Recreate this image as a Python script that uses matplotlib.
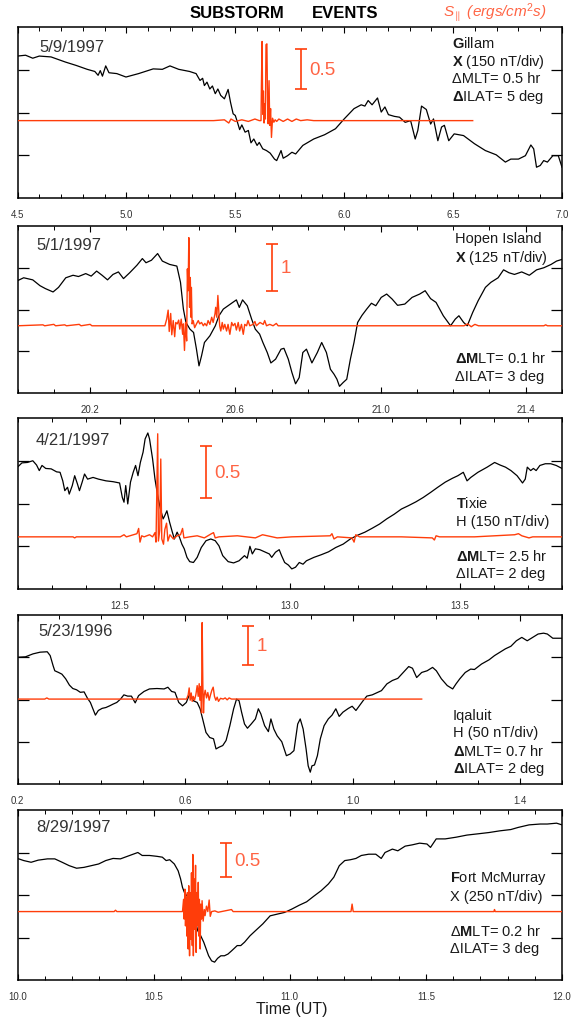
import matplotlib
matplotlib.use("Agg")
import matplotlib.pyplot as plt
from matplotlib.ticker import FixedLocator, MultipleLocator, FormatStrFormatter

plt.rcParams['font.family'] = ['Liberation Sans', 'DejaVu Sans']
plt.rcParams['mathtext.fontset'] = 'custom'
plt.rcParams['mathtext.rm'] = 'Liberation Sans'
plt.rcParams['mathtext.it'] = 'Liberation Sans:italic'
plt.rcParams['mathtext.bf'] = 'Liberation Sans:bold'

# ---- data: black = magnetometer (divisions), orange = S_par (ergs/cm^2 s) ----
# panel 1: Gillam 5/9/1997
p1_black = [(4.5, 3.32), (4.537, 3.34), (4.57, 3.27), (4.60, 3.32), (4.654, 3.30), (4.72, 3.18),
            (4.77, 3.10), (4.82, 3.01), (4.855, 2.96), (4.87, 2.87), (4.88, 2.98), (4.89, 2.85),
            (4.905, 3.09), (4.92, 2.93), (4.956, 2.91), (4.998, 2.83), (5.056, 2.91), (5.123, 3.02),
            (5.165, 3.01), (5.20, 3.09), (5.24, 3.01), (5.29, 2.96), (5.32, 2.91), (5.338, 2.75),
            (5.35, 2.80), (5.358, 2.63), (5.37, 2.71), (5.383, 2.55), (5.395, 2.62), (5.408, 2.44),
            (5.42, 2.55), (5.433, 2.40), (5.45, 2.32), (5.467, 2.54), (5.478, 2.24), (5.49, 1.97),
            (5.50, 1.93), (5.51, 1.77), (5.52, 1.60), (5.53, 1.71), (5.545, 1.54), (5.56, 1.58),
            (5.572, 1.29), (5.585, 1.38), (5.60, 1.23), (5.61, 1.30), (5.626, 1.15), (5.643, 1.11),
            (5.66, 1.05), (5.68, 0.91), (5.69, 0.875), (5.70, 0.99), (5.71, 1.11), (5.72, 0.93),
            (5.74, 0.99), (5.76, 1.07), (5.777, 1.03), (5.81, 1.23), (5.86, 1.38), (5.91, 1.48),
            (5.96, 1.62), (6.00, 1.85), (6.045, 2.09), (6.078, 2.18), (6.095, 2.15), (6.11, 2.28),
            (6.128, 2.18), (6.153, 2.34), (6.17, 2.01), (6.187, 2.13), (6.203, 1.95), (6.23, 1.91),
            (6.254, 1.89), (6.28, 1.77), (6.305, 1.81), (6.326, 1.38), (6.338, 1.58), (6.355, 2.15),
            (6.377, 2.07), (6.397, 1.73), (6.41, 1.85), (6.43, 1.34), (6.447, 1.66), (6.46, 1.70),
            (6.48, 1.34), (6.505, 1.50), (6.548, 1.46), (6.598, 1.27), (6.648, 1.11), (6.698, 1.01),
            (6.74, 0.84), (6.765, 0.91), (6.80, 0.91), (6.832, 0.99), (6.857, 1.24), (6.87, 1.15),
            (6.883, 0.72), (6.90, 0.76), (6.916, 0.875), (6.933, 0.84), (6.958, 0.99), (6.983, 0.99),
            (7.0, 0.72)]
p1_flux = [(4.5, 0), (5.40, 0), (5.45, 0.01), (5.47, -0.03), (5.48, 0.02), (5.50, -0.01), (5.53, 0.01),
           (5.56, -0.01), (5.59, 0.02), (5.61, 0), (5.618, 0), (5.620, 0.45), (5.623, 0.99), (5.626, 0.08),
           (5.629, 0.37), (5.632, -0.03), (5.635, 0.21), (5.638, 0.02), (5.641, 0.95), (5.645, 0.96),
           (5.648, 0.25), (5.651, -0.04), (5.655, 0.50), (5.658, -0.06), (5.662, 0.15), (5.666, -0.21),
           (5.671, 0.03), (5.677, -0.02), (5.683, 0.01), (5.69, -0.01), (5.70, 0.02), (5.72, -0.01),
           (5.74, 0.02), (5.76, -0.01), (5.78, 0.02), (5.80, 0), (5.83, 0.01), (5.86, 0), (6.59, 0)]

# panel 2: Hopen Island 5/1/1997
p2_black = [(20.0, 2.69), (20.017, 2.76), (20.042, 2.71), (20.062, 2.57), (20.077, 2.50), (20.098, 2.42),
            (20.113, 2.53), (20.133, 2.76), (20.153, 2.82), (20.168, 2.79), (20.188, 2.86), (20.203, 2.80),
            (20.218, 2.92), (20.233, 2.82), (20.248, 2.71), (20.263, 2.84), (20.278, 2.90), (20.292, 2.74),
            (20.309, 2.88), (20.329, 3.06), (20.344, 3.22), (20.354, 3.12), (20.369, 3.18), (20.386, 3.34),
            (20.399, 3.16), (20.419, 3.08), (20.439, 3.04), (20.449, 2.65), (20.457, 2.01), (20.464, 1.69),
            (20.475, 1.53), (20.485, 1.45), (20.493, 1.05), (20.50, 0.65), (20.507, 0.89), (20.515, 1.21),
            (20.53, 1.37), (20.545, 1.61), (20.555, 1.85), (20.567, 2.01), (20.58, 2.09), (20.593, 2.17),
            (20.603, 2.23), (20.611, 2.05), (20.62, 2.23), (20.633, 2.09), (20.645, 1.77), (20.655, 1.53),
            (20.667, 1.41), (20.676, 1.21), (20.688, 0.97), (20.698, 0.72), (20.711, 0.81), (20.726, 1.05),
            (20.734, 1.07), (20.746, 0.81), (20.756, 0.49), (20.766, 0.22), (20.776, 0.37), (20.786, 0.97),
            (20.796, 1.05), (20.811, 0.72), (20.826, 0.97), (20.838, 1.21), (20.851, 0.97), (20.862, 0.57),
            (20.872, 0.45), (20.88, 0.33), (20.887, 0.16), (20.897, 0.25), (20.907, 0.33), (20.917, 0.81),
            (20.927, 1.21), (20.937, 1.69), (20.949, 1.86), (20.962, 2.01), (20.975, 2.15), (20.987, 2.09),
            (21.002, 2.29), (21.017, 2.37), (21.032, 2.25), (21.047, 2.10), (21.067, 2.13), (21.087, 2.29),
            (21.108, 2.37), (21.123, 2.45), (21.138, 2.26), (21.153, 2.17), (21.173, 1.85), (21.193, 1.61),
            (21.206, 1.77), (21.216, 1.85), (21.229, 1.69), (21.239, 1.61), (21.254, 1.93), (21.269, 2.21),
            (21.289, 2.53), (21.304, 2.65), (21.324, 2.76), (21.339, 2.95), (21.354, 2.88), (21.369, 2.84),
            (21.389, 2.90), (21.41, 2.82), (21.43, 2.95), (21.45, 3.00), (21.47, 3.08), (21.485, 3.16),
            (21.5, 3.20)]
p2_flux = [(20.0, 0), (20.07, 0.02), (20.075, 0), (20.10, 0.03), (20.105, 0), (20.13, 0.02), (20.135, 0),
           (20.17, 0.03), (20.175, 0), (20.2, 0.03), (20.205, 0), (20.3, 0), (20.406, 0), (20.411, 0.14),
           (20.415, 0.33), (20.418, -0.12), (20.422, 0.26), (20.425, -0.19), (20.429, 0.11), (20.433, -0.23),
           (20.436, 0.07), (20.440, 0.04), (20.444, 0.12), (20.447, -0.07), (20.451, 0.14), (20.455, -0.18),
           (20.457, 0.04), (20.460, -0.52), (20.463, 0.07), (20.466, -0.32), (20.468, 1.20), (20.470, 0.74),
           (20.472, 1.86), (20.474, 0.39), (20.476, 1.02), (20.478, 0.18), (20.479, 0.81), (20.481, 0.04),
           (20.484, 0.11), (20.488, -0.04), (20.493, 0.04), (20.498, 0.11), (20.502, 0.04), (20.507, 0.07),
           (20.512, 0.0), (20.516, 0.05), (20.521, 0.0), (20.525, 0.11), (20.530, 0.03), (20.535, 0.18),
           (20.539, 0.07), (20.544, 0.25), (20.546, 0.39), (20.549, 0.18), (20.552, 0.64), (20.555, 0.25),
           (20.557, 0.0), (20.560, -0.11), (20.564, 0.07), (20.567, -0.07), (20.571, 0.03), (20.576, -0.11),
           (20.580, 0.03), (20.585, -0.18), (20.590, 0.07), (20.594, 0.0), (20.599, 0.05), (20.603, -0.09),
           (20.608, 0.07), (20.612, -0.11), (20.617, 0.03), (20.622, -0.18), (20.626, 0.03), (20.631, 0.0),
           (20.635, 0.11), (20.640, 0.0), (20.649, 0.03), (20.654, 0.09), (20.658, 0.0), (20.668, 0.07),
           (20.677, 0.03), (20.681, 0.11), (20.686, 0.0), (20.695, 0.03), (20.704, 0.0), (20.713, 0.05),
           (20.718, 0.0), (21.23, 0), (21.24, 0.04), (21.25, -0.02), (21.26, 0.03), (21.27, 0),
           (21.45, 0), (21.455, 0.02), (21.46, 0), (21.5, 0)]

# panel 3: Tixie 4/21/1997
p3_black = [(12.2, 2.85), (12.213, 2.95), (12.229, 2.96), (12.245, 3.00), (12.256, 2.90), (12.264, 2.77),
            (12.272, 2.89), (12.283, 2.82), (12.299, 2.81), (12.315, 2.74), (12.325, 2.73), (12.333, 2.53),
            (12.339, 2.30), (12.347, 2.38), (12.352, 2.22), (12.361, 2.42), (12.368, 2.65), (12.376, 2.46),
            (12.382, 2.30), (12.39, 2.50), (12.397, 2.69), (12.406, 2.57), (12.422, 2.61), (12.438, 2.57),
            (12.46, 2.53), (12.481, 2.51), (12.50, 2.48), (12.508, 2.14), (12.513, 2.03), (12.518, 2.42),
            (12.524, 1.99), (12.532, 2.50), (12.54, 2.73), (12.547, 2.89), (12.554, 2.65), (12.561, 2.96),
            (12.569, 3.20), (12.575, 3.51), (12.583, 3.65), (12.588, 3.51), (12.597, 3.04), (12.604, 2.57),
            (12.612, 2.18), (12.62, 1.87), (12.628, 1.64), (12.633, 1.72), (12.639, 1.83), (12.647, 1.56),
            (12.655, 1.33), (12.661, 1.17), (12.669, 1.33), (12.676, 1.21), (12.683, 1.05), (12.69, 0.94),
            (12.698, 0.74), (12.706, 0.64), (12.717, 0.62), (12.728, 0.74), (12.74, 0.97), (12.754, 1.13),
            (12.768, 1.17), (12.781, 1.13), (12.792, 1.01), (12.803, 0.78), (12.819, 0.64), (12.835, 0.61),
            (12.851, 0.66), (12.867, 0.78), (12.875, 0.72), (12.883, 1.00), (12.89, 0.82), (12.899, 0.94),
            (12.912, 0.92), (12.926, 0.87), (12.94, 0.82), (12.947, 0.74), (12.958, 0.86), (12.969, 0.92),
            (12.976, 0.78), (12.985, 0.62), (12.996, 0.56), (13.006, 0.47), (13.017, 0.51), (13.028, 0.62),
            (13.039, 0.58), (13.049, 0.66), (13.071, 0.74), (13.092, 0.80), (13.114, 0.87), (13.135, 0.97),
            (13.157, 1.05), (13.178, 1.17), (13.2, 1.26), (13.221, 1.33), (13.242, 1.42), (13.264, 1.52),
            (13.285, 1.64), (13.307, 1.75), (13.328, 1.87), (13.349, 1.95), (13.371, 2.04), (13.392, 2.14),
            (13.414, 2.26), (13.435, 2.38), (13.457, 2.50), (13.478, 2.59), (13.494, 2.65), (13.51, 2.73),
            (13.521, 2.53), (13.532, 2.61), (13.553, 2.73), (13.58, 2.85), (13.602, 2.96), (13.618, 2.90),
            (13.634, 2.85), (13.65, 2.77), (13.668, 2.65), (13.684, 2.48), (13.692, 2.57), (13.698, 2.85),
            (13.708, 2.77), (13.716, 2.82), (13.724, 2.77), (13.735, 2.89), (13.751, 2.93), (13.767, 2.93),
            (13.783, 2.89), (13.8, 2.82)]
p3_flux = [(12.2, 0), (12.363, 0), (12.368, -0.01), (12.373, 0), (12.502, 0), (12.513, 0.02), (12.52, 0),
           (12.551, 0.03), (12.556, 0.08), (12.56, -0.05), (12.565, 0.01), (12.572, 0), (12.588, 0.02),
           (12.597, 0), (12.604, 0.04), (12.607, -0.05), (12.612, 0.98), (12.614, -0.04), (12.618, 0.06),
           (12.621, 0.74), (12.624, -0.02), (12.629, -0.07), (12.633, 0.07), (12.638, 0.13), (12.642, -0.04),
           (12.648, 0.02), (12.658, -0.02), (12.669, 0.01), (12.679, 0.02), (12.685, 0.08), (12.689, -0.01),
           (12.706, 0), (12.728, 0.01), (12.749, -0.01), (12.77, 0.03), (12.776, 0.04), (12.781, -0.01),
           (12.792, 0), (12.846, 0.01), (12.899, -0.01), (12.92, 0.02), (12.963, -0.01), (13.006, 0),
           (13.119, 0.01), (13.124, 0.03), (13.13, -0.02), (13.14, 0), (13.183, -0.01), (13.189, -0.05),
           (13.194, 0.02), (13.205, 0), (13.328, 0), (13.419, -0.01), (13.425, -0.03), (13.43, 0.01),
           (13.44, 0), (13.543, 0), (13.661, 0.02), (13.672, 0.03), (13.682, 0.01), (13.703, -0.01),
           (13.714, 0), (13.8, 0)]

# panel 4: Iqaluit 5/23/1996
p4_black = [(0.2, 3.00), (0.219, 3.01), (0.237, 3.08), (0.254, 3.12), (0.271, 3.13), (0.278, 3.04),
            (0.285, 2.80), (0.289, 2.68), (0.298, 2.64), (0.306, 2.60), (0.315, 2.49), (0.324, 2.34),
            (0.332, 2.26), (0.341, 2.23), (0.35, 2.17), (0.359, 2.18), (0.367, 2.03), (0.374, 1.93),
            (0.38, 1.78), (0.386, 1.63), (0.393, 1.74), (0.402, 1.79), (0.411, 1.81), (0.42, 1.85),
            (0.428, 1.89), (0.437, 1.93), (0.446, 2.01), (0.454, 2.11), (0.463, 2.08), (0.472, 2.08),
            (0.481, 1.92), (0.489, 2.09), (0.502, 2.19), (0.515, 2.25), (0.533, 2.26), (0.55, 2.25),
            (0.559, 2.29), (0.568, 2.19), (0.576, 2.17), (0.585, 1.93), (0.594, 1.85), (0.603, 1.93),
            (0.611, 2.13), (0.62, 1.97), (0.629, 1.93), (0.636, 1.78), (0.642, 1.54), (0.65, 1.22),
            (0.659, 1.10), (0.668, 1.07), (0.674, 0.83), (0.681, 0.87), (0.69, 0.91), (0.698, 1.03),
            (0.707, 1.38), (0.716, 1.78), (0.723, 2.01), (0.729, 1.97), (0.735, 1.70), (0.742, 1.42),
            (0.749, 1.32), (0.758, 1.42), (0.768, 1.54), (0.775, 1.78), (0.781, 1.66), (0.79, 1.38),
            (0.799, 1.24), (0.805, 1.54), (0.812, 1.30), (0.82, 1.14), (0.831, 1.00), (0.842, 0.67),
            (0.851, 0.71), (0.86, 0.79), (0.869, 1.42), (0.875, 1.54), (0.882, 1.30), (0.889, 0.83),
            (0.894, 0.43), (0.899, 0.28), (0.903, 0.43), (0.909, 0.45), (0.916, 0.67), (0.923, 1.07),
            (0.932, 1.38), (0.942, 1.54), (0.951, 1.63), (0.96, 1.78), (0.968, 1.60), (0.977, 1.70),
            (0.99, 1.79), (0.999, 1.84), (1.008, 1.74), (1.016, 1.85), (1.025, 1.97), (1.034, 2.08),
            (1.047, 2.11), (1.056, 2.15), (1.069, 2.21), (1.082, 2.37), (1.095, 2.45), (1.108, 2.50),
            (1.121, 2.64), (1.134, 2.78), (1.143, 2.74), (1.153, 2.52), (1.165, 2.64), (1.178, 2.68),
            (1.191, 2.76), (1.2, 2.68), (1.212, 2.49), (1.226, 2.33), (1.239, 2.25), (1.247, 2.37),
            (1.256, 2.49), (1.269, 2.64), (1.282, 2.72), (1.291, 2.71), (1.308, 2.84), (1.326, 2.94),
            (1.339, 3.04), (1.352, 3.12), (1.365, 3.20), (1.378, 3.26), (1.391, 3.39), (1.404, 3.47),
            (1.417, 3.39), (1.43, 3.47), (1.443, 3.55), (1.456, 3.57), (1.465, 3.55), (1.478, 3.45),
            (1.5, 3.45)]
p4_flux = [(0.2, 0), (0.265, 0), (0.27, 0.03), (0.275, 0), (0.6036, 0), (0.6075, 0.11), (0.6099, 0.29),
           (0.6123, -0.03), (0.6147, 0.16), (0.6171, -0.06), (0.6195, 0.07), (0.6226, -0.03), (0.6258, 0.11),
           (0.6290, 0.35), (0.6314, 0.07), (0.6338, 0.40), (0.6354, -0.03), (0.6378, 0.33), (0.6393, -0.36),
           (0.6409, 1.99), (0.6425, 0.37), (0.6441, -0.36), (0.6457, 0.09), (0.6481, 0.23), (0.6513, 0.03),
           (0.6544, 0.17), (0.6576, -0.03), (0.6608, 0.11), (0.6640, 0.23), (0.6672, 0.31), (0.6703, 0.07),
           (0.6735, -0.03), (0.6767, 0.05), (0.6799, -0.06), (0.6847, 0.02), (0.6910, 0.0), (0.6958, 0.03),
           (0.7006, -0.02), (0.7053, 0.03), (0.7109, 0.0), (1.165, 0)]

# panel 5: Fort McMurray 8/29/1997
p5_black = [(10.0, 2.86), (10.023, 2.81), (10.05, 2.77), (10.076, 2.82), (10.11, 2.85), (10.137, 2.85),
            (10.164, 2.77), (10.19, 2.69), (10.217, 2.63), (10.244, 2.65), (10.271, 2.69), (10.298, 2.73),
            (10.324, 2.81), (10.351, 2.86), (10.378, 2.85), (10.412, 2.93), (10.442, 3.00), (10.458, 2.93),
            (10.485, 2.93), (10.512, 2.91), (10.532, 2.89), (10.546, 2.81), (10.559, 2.83), (10.576, 2.73),
            (10.59, 2.57), (10.599, 2.38), (10.606, 2.18), (10.613, 2.06), (10.622, 1.98), (10.633, 1.91),
            (10.643, 1.67), (10.653, 1.40), (10.662, 1.16), (10.673, 1.04), (10.684, 0.89), (10.693, 0.73),
            (10.702, 0.57), (10.713, 0.45), (10.724, 0.42), (10.735, 0.51), (10.747, 0.57), (10.76, 0.57),
            (10.773, 0.61), (10.787, 0.69), (10.807, 0.81), (10.82, 0.81), (10.834, 0.89), (10.854, 1.04),
            (10.874, 1.16), (10.901, 1.32), (10.928, 1.51), (10.954, 1.55), (10.981, 1.59), (11.008, 1.67),
            (11.035, 1.76), (11.062, 1.84), (11.088, 1.97), (11.115, 2.10), (11.142, 2.26), (11.162, 2.42),
            (11.182, 2.69), (11.202, 2.81), (11.223, 2.83), (11.243, 2.86), (11.263, 2.93), (11.29, 2.96),
            (11.316, 2.96), (11.336, 2.86), (11.35, 3.00), (11.377, 3.08), (11.397, 3.04), (11.424, 3.15),
            (11.45, 3.18), (11.477, 3.22), (11.504, 3.20), (11.517, 3.12), (11.538, 3.32), (11.571, 3.32),
            (11.611, 3.36), (11.651, 3.41), (11.692, 3.44), (11.732, 3.47), (11.772, 3.51), (11.812, 3.54),
            (11.839, 3.59), (11.879, 3.65), (11.92, 3.67), (11.946, 3.67), (11.98, 3.69), (12.0, 3.65)]
p5_flux = [(10.0, 0), (10.355, 0), (10.36, 0.02), (10.365, 0), (10.606, 0), (10.610, 0.18), (10.612, -0.11),
           (10.615, 0.33), (10.617, -0.21), (10.620, 0.21), (10.622, -0.36), (10.624, 0.28), (10.627, -0.55),
           (10.629, 0.38), (10.632, -0.65), (10.634, 0.28), (10.637, -0.41), (10.639, 0.57), (10.642, -0.50),
           (10.644, 0.84), (10.646, -0.65), (10.649, 0.48), (10.651, -0.26), (10.654, 0.68), (10.656, -0.60),
           (10.659, 0.28), (10.661, -0.21), (10.664, 0.43), (10.666, -0.36), (10.668, 0.18), (10.671, -0.55),
           (10.673, 0.11), (10.676, -0.11), (10.678, 0.16), (10.682, -0.14), (10.686, 0.03), (10.689, -0.06),
           (10.694, 0.08), (10.699, 0.0), (10.704, 0.17), (10.708, -0.07), (10.713, 0.0), (10.725, 0.01),
           (10.737, -0.01), (10.786, 0.03), (10.792, 0.0), (11.225, 0), (11.229, 0.11), (11.233, 0),
           (11.75, 0), (11.752, 0.03), (11.755, 0), (12.0, 0)]

# x-axis ranges and labelled ticks
p1_xlim, p1_xticks = (4.5, 7.0), [4.5, 5.0, 5.5, 6.0, 6.5, 7.0]
p2_xlim, p2_xticks = (20.0, 21.5), [20.2, 20.6, 21.0, 21.4]
p3_xlim, p3_xticks = (12.2, 13.8), [12.5, 13.0, 13.5]
p4_xlim, p4_xticks = (0.2, 1.5), [0.2, 0.6, 1.0, 1.4]
p5_xlim, p5_xticks = (10.0, 12.0), [10.0, 10.5, 11.0, 11.5, 12.0]

dates = ['5/9/1997', '5/1/1997', '4/21/1997', '5/23/1996', '8/29/1997']
bar_values = [0.5, 1, 0.5, 1, 0.5]
bar_labels = ['0.5', '1', '0.5', '1', '0.5']

ORANGE = '#ff3d0a'
ORANGE_TXT = '#ff6444'

# layout per panel (figure pixels top/bottom, baseline & gain of the S trace, scale-bar spot, text spots)
panels = [
    dict(black=p1_black, flux=p1_flux, xlim=p1_xlim, xt=p1_xticks, top=28, bot=199,
         base=1.81, gain=1.87, bar_t=5.80, bar_top=3.485, date_xy=(0.040, 0.887), tx=0.798,
         lines=[(r'$\mathbf{G}$illam', 0.911), (r'$\mathbf{X}$ (150 nT/div)', 0.803),
                ('\u0394MLT= 0.5 hr', 0.700), (r'$\mathbf{\Delta}$ILAT= 5 deg', 0.595)]),
    dict(black=p2_black, flux=p2_flux, xlim=p2_xlim, xt=p2_xticks, top=227, bot=394,
         base=1.61, gain=1.135, bar_t=20.702, bar_top=3.58, date_xy=(0.035, 0.892), tx=0.803,
         lines=[('Hopen Island', 0.926), (r'$\mathbf{X}$ (125 nT/div)', 0.813),
                (r'$\mathbf{\Delta M}$LT= 0.1 hr', 0.214), ('\u0394ILAT= 3 deg', 0.104)]),
    dict(black=p3_black, flux=p3_flux, xlim=p3_xlim, xt=p3_xticks, top=419, bot=590,
         base=1.22, gain=2.46, bar_t=12.753, bar_top=3.35, date_xy=(0.033, 0.873), tx=0.805,
         lines=[(r'$\mathbf{T}$ixie', 0.507), ('H (150 nT/div)', 0.399),
                (r'$\mathbf{\Delta M}$LT= 2.5 hr', 0.195), ('\u0394ILAT= 2 deg', 0.094)]),
    dict(black=p4_black, flux=p4_flux, xlim=p4_xlim, xt=p4_xticks, top=616, bot=785,
         base=2.01, gain=0.91, bar_t=0.751, bar_top=3.73, date_xy=(0.038, 0.911), tx=0.800,
         lines=[('Iqaluit', 0.408), ('H (50 nT/div)', 0.306),
                (r'$\mathbf{\Delta}$MLT= 0.7 hr', 0.197), (r'$\mathbf{\Delta}$ILAT= 2 deg', 0.093)]),
    dict(black=p5_black, flux=p5_flux, xlim=p5_xlim, xt=p5_xticks, top=811, bot=981,
         base=1.61, gain=1.60, bar_t=10.765, bar_top=3.22, date_xy=(0.035, 0.904), tx=0.794,
         lines=[(r'$\mathbf{F}$ort McMurray', 0.604), ('X (250 nT/div)', 0.496),
                (r'$\Delta\mathbf{M}$LT= 0.2 hr', 0.294), ('\u0394ILAT= 3 deg', 0.186)]),
]

W, H = 571, 1020
fig = plt.figure(figsize=(W / 100, H / 100), dpi=100)
left, right = 17.5, 562

for i, p in enumerate(panels):
    ax = fig.add_axes([left / W, 1 - p['bot'] / H, (right - left) / W, (p['bot'] - p['top']) / H])

    bt, bv = zip(*p['black'])
    ax.plot(bt, bv, color='black', lw=0.9, zorder=2)

    ft, fv = zip(*p['flux'])
    ax.plot(ft, [p['base'] + v * p['gain'] for v in fv], color=ORANGE, lw=1.0, zorder=3)

    # scale bar for S_par
    half = bar_values[i] * p['gain'] / 2
    ax.errorbar(p['bar_t'], p['bar_top'] - half, yerr=half, color=ORANGE, lw=1.2,
                capsize=4.3, capthick=1.2)
    ax.annotate(bar_labels[i], xy=(p['bar_t'], p['bar_top'] - half), xytext=(6, 0),
                textcoords='offset points', va='center', ha='left', fontsize=13.5, color=ORANGE_TXT)

    ax.text(p['date_xy'][0], p['date_xy'][1], dates[i], transform=ax.transAxes,
            fontsize=12, color='#333333', va='center', ha='left')
    for txt, yf in p['lines']:
        ax.text(p['tx'], yf, txt, transform=ax.transAxes, fontsize=10.5,
                color='#1a1a1a', va='center', ha='left')

    ax.set_xlim(*p['xlim'])
    ax.set_ylim(0, 4)
    ax.xaxis.set_major_locator(FixedLocator(p['xt']))
    ax.xaxis.set_minor_locator(MultipleLocator(0.1))
    ax.xaxis.set_major_formatter(FormatStrFormatter('%.1f'))
    ax.yaxis.set_major_locator(FixedLocator([1, 2, 3]))
    ax.set_yticklabels([])
    ax.tick_params(axis='x', which='major', direction='in', top=True, bottom=True,
                   length=4, width=0.8, labelsize=7, pad=8, labelcolor='#333333')
    ax.tick_params(axis='x', which='minor', direction='in', top=True, bottom=True,
                   length=3, width=0.7)
    ax.tick_params(axis='y', which='major', direction='in', left=True, right=True,
                   length=8, width=0.9)
    for s in ax.spines.values():
        s.set_linewidth(1.1)

fig.text(190 / W, 1 - 13 / H, 'SUBSTORM', fontsize=12, fontweight='bold', va='center', ha='left')
fig.text(312 / W, 1 - 13 / H, 'EVENTS', fontsize=12, fontweight='bold', va='center', ha='left')
fig.text(443 / W, 1 - 13 / H, r'$S_{\parallel}$ (ergs/cm$^2$s)', fontsize=11, style='italic',
         color=ORANGE_TXT, va='center', ha='left')
fig.text(292 / W, 1 - 1010 / H, 'Time (UT)', fontsize=11.5, color='#1a1a1a', va='center', ha='center')

fig.savefig('out.png', dpi=100)
